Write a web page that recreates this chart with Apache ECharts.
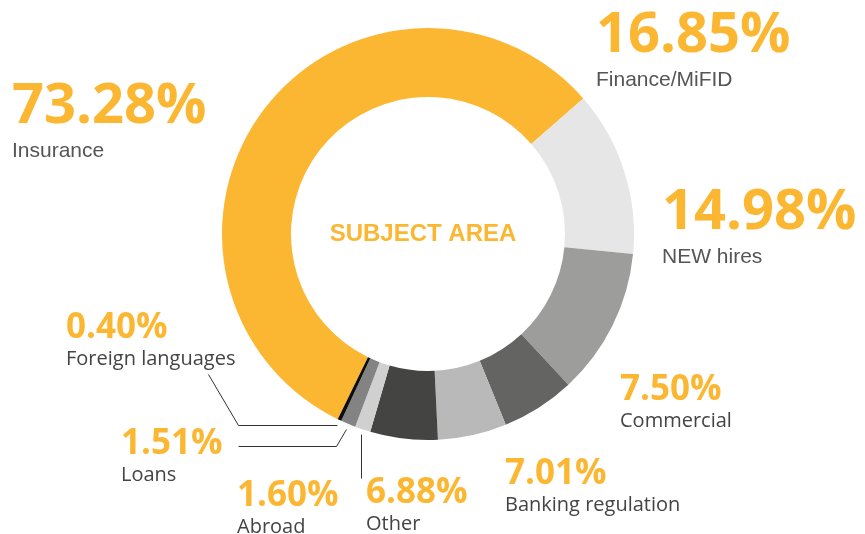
<!DOCTYPE html>
<html>
<head>
<meta charset="utf-8">
<script src="https://cdn.jsdelivr.net/npm/echarts@6/dist/echarts.min.js"></script>
<style>
  html, body { margin: 0; padding: 0; background: #ffffff; }
  #chart { width: 865px; height: 534px; }
</style>
</head>
<body>
<div id="chart"></div>
<script>
// Subject areas and their shares (%)
const categories = ['Insurance', 'Finance/MiFID', 'NEW hires', 'Commercial', 'Banking regulation',
                    'Other', 'Abroad', 'Loans', 'Foreign languages'];
const shares = [73.28, 16.85, 14.98, 7.50, 7.01, 6.88, 1.60, 1.51, 0.40];
const centerTitle = 'SUBJECT AREA';

// Styling
const sliceColors = ['#FBB731', '#E6E6E6', '#9D9D9C', '#646463', '#B9B9B9',
                     '#444443', '#D0D0D0', '#838383', '#0D0D0D'];
const accent = '#FBB731';
const bigLabel = [true, true, true, false, false, false, false, false, false];
// top-left corner of each label block
const labelPos = [[12, 77], [596, 6], [662, 183], [620, 372], [505, 456],
                  [366, 475], [237, 478], [121, 426], [66, 310]];
// leader lines for the thin slices: p is a point just outside the slice
const leaderPath = {
  6: p => [p, [p[0], 478]],
  7: p => [p, [p[0] - 10, 446], [238, 446]],
  8: p => [p, [238, p[1]], [208, 374]]
};

const chart = echarts.init(document.getElementById('chart'), null, { renderer: 'canvas' });

const option = {
  animation: false,
  backgroundColor: '#ffffff',
  series: [{
    type: 'pie',
    center: [428, 234],
    radius: [137, 206],
    startAngle: 244,
    clockwise: true,
    avoidLabelOverlap: false,
    emphasis: { disabled: true },
    itemStyle: { borderWidth: 0 },
    data: categories.map((name, i) => ({
      name: name,
      value: shares[i],
      itemStyle: { color: sliceColors[i] }
    })),
    label: {
      show: true,
      position: 'inside',
      textBorderWidth: 0,
      formatter: p => {
        const v = p.value.toFixed(2) + '%';
        return bigLabel[p.dataIndex]
          ? '{vb|' + v + '}\n{nb|' + p.name + '}'
          : '{vs|' + v + '}\n{ns|' + p.name + '}';
      },
      rich: {
        vb: { fontFamily: 'Open Sans', fontWeight: 'bold', fontSize: 56, lineHeight: 60, color: accent },
        nb: { fontFamily: 'Liberation Sans', fontSize: 21, lineHeight: 28, color: '#555555' },
        vs: { fontFamily: 'Open Sans', fontWeight: 'bold', fontSize: 35, lineHeight: 36, color: accent },
        ns: { fontFamily: 'Open Sans', fontSize: 20, lineHeight: 26, color: '#444444' }
      }
    },
    labelLine: { show: false },
    labelLayout: p => ({
      x: labelPos[p.dataIndex][0],
      y: labelPos[p.dataIndex][1],
      align: 'left',
      verticalAlign: 'top'
    })
  }],
  graphic: [{
    id: 'title',
    type: 'text',
    x: 423,
    y: 234,
    silent: true,
    style: {
      text: centerTitle,
      fill: accent,
      font: 'bold 24px "Liberation Sans", Arial, sans-serif',
      textAlign: 'center',
      textVerticalAlign: 'middle'
    }
  }]
};

chart.setOption(option);

// Leader lines start at each thin slice's mid angle, taken from the pie layout
const pieData = chart.getModel().getSeriesByIndex(0).getData();
const leaders = Object.keys(leaderPath).map(key => {
  const idx = Number(key);
  const lay = pieData.getItemLayout(idx);
  const mid = (lay.startAngle + lay.endAngle) / 2;
  const r = lay.r + 5;
  const p = [lay.cx + r * Math.cos(mid), lay.cy + r * Math.sin(mid)];
  return {
    id: 'leader' + idx,
    type: 'polyline',
    silent: true,
    shape: { points: leaderPath[idx](p).map(q => [Math.round(q[0]) + 0.5, Math.round(q[1]) + 0.5]) },
    style: { stroke: '#333333', lineWidth: 1, fill: null }
  };
});
chart.setOption({ graphic: leaders });
</script>
</body>
</html>
